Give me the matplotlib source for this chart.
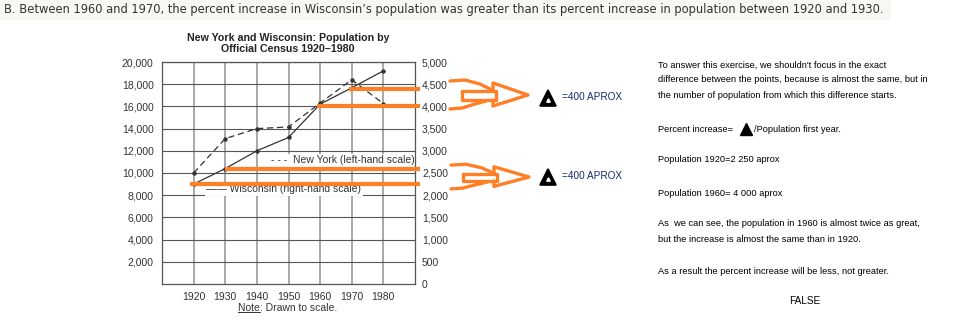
import matplotlib
matplotlib.use('Agg')
import matplotlib.pyplot as plt
from matplotlib.lines import Line2D
from matplotlib.patches import Rectangle

# Census years and populations (thousands)
years = [1920, 1930, 1940, 1950, 1960, 1970, 1980]
new_york = [10000, 13100, 14000, 14150, 16300, 18400, 16250]   # left-hand scale
wisconsin = [2250, 2600, 3000, 3300, 4050, 4420, 4800]         # right-hand scale

left_ticks = [2000, 4000, 6000, 8000, 10000, 12000, 14000, 16000, 18000, 20000]
right_ticks = [0, 500, 1000, 1500, 2000, 2500, 3000, 3500, 4000, 4500, 5000]

# Levels marked in orange on the right-hand scale: (start year, value)
marks = [(1969, 4400), (1959, 4000), (1930, 2600), (1919, 2250)]

W, H = 961, 323
ORANGE = '#ff7f27'
SANS = ['Liberation Sans', 'DejaVu Sans']

fig = plt.figure(figsize=(W / 100, H / 100), dpi=100)


def fx(x):
    return x / W


def fy(y):
    return 1 - y / H


# Question banner across the top
fig.add_artist(Rectangle((0, fy(20)), fx(891), 20 / H, transform=fig.transFigure,
                         facecolor='#f7f8f4', edgecolor='none'))
fig.text(fx(4), fy(10), "B. Between 1960 and 1970, the percent increase in Wisconsin\u2019s "
         "population was greater than its percent increase in population between 1920 and 1930.",
         fontsize=8.3, color='#333333', family='DejaVu Sans', va='center', ha='left')

# Chart
ax = fig.add_axes([fx(162), fy(284), (415 - 162) / W, (284 - 62) / H])
ax.set_xlim(1910, 1990)
ax.set_ylim(0, 20000)
ax.set_xticks(years)
ax.set_xticklabels([str(y) for y in years])
ax.set_yticks(left_ticks)
ax.set_yticklabels([f'{v:,}' for v in left_ticks])
ax.tick_params(length=0, labelsize=7.5, labelcolor='#333333')
ax.tick_params(axis='y', pad=6)
ax.tick_params(axis='x', pad=6)
for lab in ax.get_xticklabels() + ax.get_yticklabels():
    lab.set_family(SANS)
ax.grid(axis='x', color='#a8a8a8', lw=1.4, zorder=0)
ax.grid(axis='y', color='#555555', lw=0.8, zorder=0)
ax.set_axisbelow(True)
for s in ax.spines.values():
    s.set_color('#555555')
    s.set_linewidth(0.9)

ax.plot(years, new_york, color='#333333', lw=0.9, ls=(0, (5, 3)),
        marker='o', ms=2.2, zorder=4)

ax2 = ax.twinx()
ax2.set_ylim(0, 5000)
ax2.set_yticks(right_ticks)
ax2.set_yticklabels([f'{v:,}' for v in right_ticks])
ax2.tick_params(length=0, labelsize=7.5, labelcolor='#333333', pad=5)
for lab in ax2.get_yticklabels():
    lab.set_family(SANS)
for s in ax2.spines.values():
    s.set_visible(False)
ax2.plot(years, wisconsin, color='#333333', lw=0.9, marker='o', ms=2.2, zorder=4)

# Legend rows drawn as labels on white boxes
ax.text(1990, 11150, '- - -  New York (left-hand scale)', fontsize=7.5, family=SANS,
        color='#333333', ha='right', va='center', zorder=2,
        bbox=dict(facecolor='white', edgecolor='none', pad=1.2))
ax.text(1924, 8550, '\u2014\u2014 Wisconsin (right-hand scale)', fontsize=7.5, family=SANS,
        color='#333333', ha='left', va='center', zorder=2,
        bbox=dict(facecolor='white', edgecolor='none', pad=1.2))

# Orange marker lines on the right-hand scale
for start, level in marks:
    ax2.plot([start, 1991.5], [level, level], color=ORANGE, lw=3, zorder=6,
             clip_on=False, solid_capstyle='butt')

# Title and note
fig.text(fx(288), fy(43.5), 'New York and Wisconsin: Population by\nOfficial Census 1920\u20131980',
         fontsize=7.7, fontweight='bold', family=SANS, color='#222222',
         ha='center', va='center', linespacing=1.2)
note = fig.text(fx(288), fy(308), 'Note: Drawn to scale.', fontsize=7.5, family=SANS,
                color='#333333', ha='center', va='center')
fig.canvas.draw()
bb = note.get_window_extent()
note_w = fig.text(0, 0, 'Note', fontsize=7.5, family=SANS).get_window_extent().width
fig.texts[-1].remove()
fig.add_artist(Line2D([bb.x0 / W, (bb.x0 + note_w) / W], [(bb.y0 + 1) / H] * 2,
                      transform=fig.transFigure, color='#333333', lw=0.7))


# Hand-drawn orange arrows
def arrow(cx, cy, sy):
    strokes = [
        [(0, -14), (15, -15), (30, -11), (40, -6)],
        [(12, -4), (46, -4), (46, 5), (12, 5), (12, -4)],
        [(43, -4), (43, -12), (78, 0), (43, 11), (43, 5)],
        [(0, 14), (12, 13), (25, 9), (36, 6)],
    ]
    for pts in strokes:
        xs = [fx(cx + p[0]) for p in pts]
        ys = [fy(cy + p[1] * sy) for p in pts]
        fig.add_artist(Line2D(xs, ys, transform=fig.transFigure, color=ORANGE,
                              lw=2.4, solid_joinstyle='round', solid_capstyle='round'))


arrow(450, 95, 1.0)
arrow(451, 177, 0.85)

# Delta signs with their estimates
for ty in (98, 177):
    fig.add_artist(Line2D([fx(548)], [fy(ty)], transform=fig.transFigure, marker='^',
                          ms=11, color='black', mec='black', mew=1.2))
    fig.add_artist(Line2D([fx(548)], [fy(ty + 2)], transform=fig.transFigure, marker='^',
                          ms=2.5, color='white', mec='white'))
    fig.text(fx(562), fy(ty - 1), '=400 APROX', fontsize=7.2, family=SANS,
             color='#1a2a6c', ha='left', va='center')

# Worked explanation on the right
explain = [
    (65, "To answer this exercise, we shouldn't focus in the exact"),
    (80, "difference between the points, because is almost the same, but in"),
    (96, "the number of population from which this difference starts."),
    (160, "Population 1920=2 250 aprox"),
    (193, "Population 1960= 4 000 aprox"),
    (224, "As  we can see, the population in 1960 is almost twice as great,"),
    (240, "but the increase is almost the same than in 1920."),
    (272, "As a result the percent increase will be less, not greater."),
]
for y, line in explain:
    fig.text(fx(658), fy(y), line, fontsize=6.7, family=SANS, color='black',
             ha='left', va='center')
fig.text(fx(658), fy(130), 'Percent increase=', fontsize=6.7, family=SANS,
         color='black', ha='left', va='center')
fig.add_artist(Line2D([fx(746)], [fy(129)], transform=fig.transFigure, marker='^',
                      ms=8, color='black'))
fig.text(fx(754), fy(130), '/Population first year.', fontsize=6.7, family=SANS,
         color='black', ha='left', va='center')
fig.text(fx(805), fy(301), 'FALSE', fontsize=7.2, family=SANS, color='black',
         ha='center', va='center')

fig.savefig('out.png', dpi=100)
